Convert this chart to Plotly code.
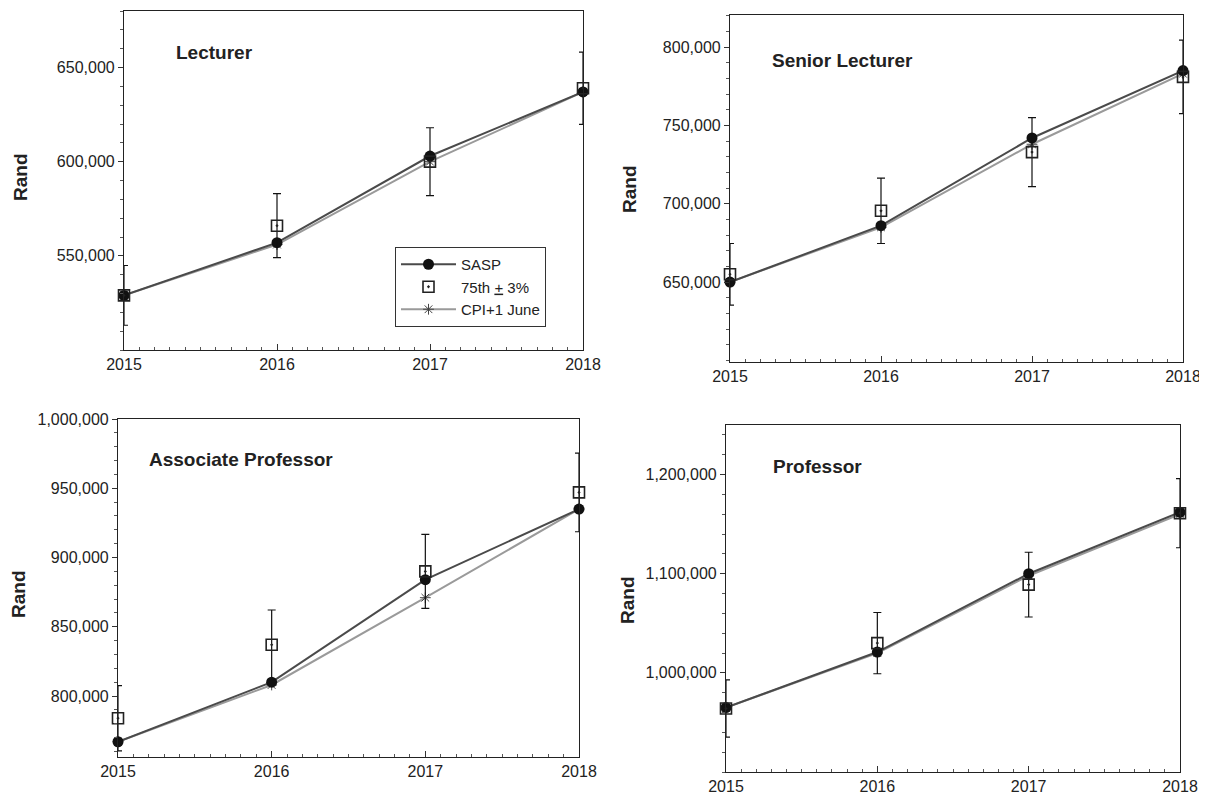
import plotly.graph_objects as go

# The page body has an 8px default margin; the figure is sized and positioned
# so that it fills the 1207x795 window from that offset.
OFF = 8
W, H = 1207 - OFF, 795 - OFF

years = [2015, 2016, 2017, 2018]

panel_titles = ["Lecturer", "Senior Lecturer", "Associate Professor", "Professor"]

lect_sasp = [529000, 557000, 603000, 637000]
lect_p75 = [529000, 566000, 600000, 639000]
lect_cpi = [529000, 556000, 600000, 637000]

sl_sasp = [650000, 686000, 742000, 785000]
sl_p75 = [655000, 695500, 733000, 781000]
sl_cpi = [650000, 685000, 738000, 783000]

ap_sasp = [767000, 810000, 884000, 935000]
ap_p75 = [784000, 837000, 890000, 947000]
ap_cpi = [767000, 808000, 871000, 935000]

prof_sasp = [965000, 1021000, 1100000, 1162000]
prof_p75 = [964000, 1030000, 1089000, 1161000]
prof_cpi = [965000, 1020000, 1098000, 1160000]

lect_ticks = [550000, 600000, 650000]
sl_ticks = [650000, 700000, 750000, 800000]
ap_ticks = [800000, 850000, 900000, 950000, 1000000]
prof_ticks = [1000000, 1100000, 1200000]

series = [
    (lect_sasp, lect_p75, lect_cpi, lect_ticks),
    (sl_sasp, sl_p75, sl_cpi, sl_ticks),
    (ap_sasp, ap_p75, ap_cpi, ap_ticks),
    (prof_sasp, prof_p75, prof_cpi, prof_ticks),
]

# layout in window pixels: (left, right, top, bottom), y range, minor dtick
panels = [
    dict(px=(124, 583, 11, 350), yr=[500000, 680000], minor=10000,
         title=(214, 53), rand=(20, 177)),
    dict(px=(730, 1183, 15, 362), yr=[599000, 820500], minor=10000,
         title=(842, 60), rand=(629, 189)),
    dict(px=(118, 579, 419, 757), yr=[756000, 1000000], minor=10000,
         title=(241, 459), rand=(18, 594)),
    dict(px=(726, 1180, 425, 772), yr=[900000, 1250000], minor=20000,
         title=(817, 466), rand=(627, 600)),
]


def fx(px):
    return (px - OFF) / W


def fy(py):
    return 1 - (py - OFF) / H


FONT = "Liberation Sans, Arial, sans-serif"
SASP_COL = "#4a4a4a"
CPI_COL = "#9a9a9a"

fig = go.Figure()
layout = dict(
    template="none",
    width=W, height=H,
    margin=dict(l=0, r=0, t=0, b=0, autoexpand=False),
    paper_bgcolor="white", plot_bgcolor="white",
    font=dict(family=FONT, color="#222", size=15),
    showlegend=True,
    legend=dict(x=fx(395), y=fy(247), xanchor="left", yanchor="top",
                bordercolor="#333", borderwidth=1, bgcolor="white",
                font=dict(size=15, family=FONT, color="#222"),
                itemwidth=55, tracegroupgap=4, traceorder="normal"),
    annotations=[],
)

for i, (p, (sasp, p75, cpi, ticks)) in enumerate(zip(panels, series)):
    n = "" if i == 0 else str(i + 1)
    l, r, t, b = p["px"]
    xa = "x" + n
    ya = "y" + n
    show = i == 0
    fig.add_trace(go.Scatter(
        x=years, y=cpi, mode="lines+markers", name="CPI+1 June",
        line=dict(color=CPI_COL, width=2),
        marker=dict(symbol="asterisk-open", size=9, color="#444",
                    line=dict(width=1, color="#444")),
        xaxis=xa, yaxis=ya, showlegend=show, legendrank=3, cliponaxis=False))
    fig.add_trace(go.Scatter(
        x=years, y=sasp, mode="lines+markers", name="SASP",
        line=dict(color=SASP_COL, width=2),
        marker=dict(symbol="circle", size=11, color="#111"),
        xaxis=xa, yaxis=ya, showlegend=show, legendrank=1, cliponaxis=False))
    fig.add_trace(go.Scatter(
        x=years, y=p75, mode="markers", name="75th <u>+</u> 3%",
        marker=dict(symbol="square-open-dot", size=11, color="#222",
                    line=dict(width=1.6, color="#222")),
        error_y=dict(type="percent", value=3, color="#111", thickness=1.2, width=4),
        xaxis=xa, yaxis=ya, showlegend=show, legendrank=2, cliponaxis=False))

    layout["xaxis" + n] = dict(
        domain=[fx(l), fx(r)], range=[2015, 2018], anchor=ya,
        tickvals=years, ticktext=[str(y) for y in years],
        ticks="inside", ticklen=6, tickcolor="#333", automargin=False,
        minor=dict(dtick=0.1, tick0=2015, ticks="inside", ticklen=3, tickcolor="#555"),
        showline=True, linecolor="#222", linewidth=1.2, mirror=True,
        showgrid=False, zeroline=False,
        tickfont=dict(size=16, family=FONT, color="#222"), fixedrange=True)
    layout["yaxis" + n] = dict(
        domain=[fy(b), fy(t)], range=p["yr"], anchor=xa,
        tickvals=ticks, tickformat=",d", automargin=False,
        ticks="outside", ticklen=5, tickcolor="#333",
        minor=dict(dtick=p["minor"], tick0=0, ticks="outside", ticklen=3, tickcolor="#555"),
        showline=True, linecolor="#222", linewidth=1.2, mirror=True,
        showgrid=False, zeroline=False,
        tickfont=dict(size=16, family=FONT, color="#222"), fixedrange=True)

    tx, ty = p["title"]
    layout["annotations"].append(dict(
        text="<b>" + panel_titles[i] + "</b>", x=fx(tx), y=fy(ty),
        xref="paper", yref="paper", xanchor="center", yanchor="middle",
        showarrow=False, font=dict(size=19, family=FONT, color="#222")))
    rx, ry = p["rand"]
    layout["annotations"].append(dict(
        text="<b>Rand</b>", x=fx(rx), y=fy(ry), textangle=-90,
        xref="paper", yref="paper", xanchor="center", yanchor="middle",
        showarrow=False, font=dict(size=19, family=FONT, color="#222")))

fig.update_layout(**layout)
fig.write_html("out.html")
